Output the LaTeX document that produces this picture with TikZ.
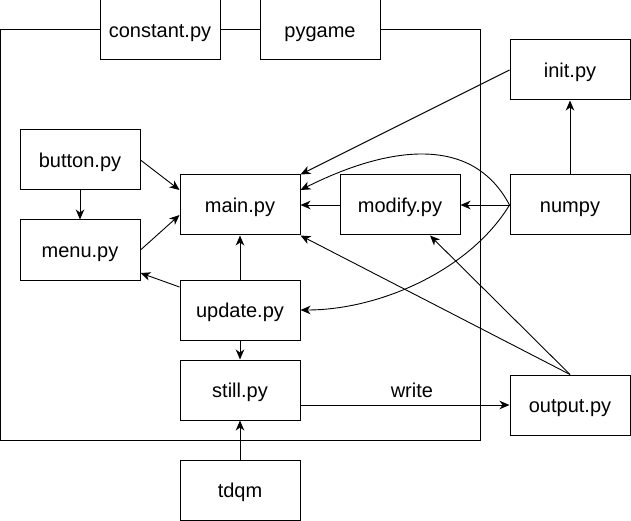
\documentclass[tikz,border=0pt]{standalone}
\usepackage{fontspec}
\setmainfont{Liberation Sans}
\usetikzlibrary{arrows.meta}
\begin{document}
\begin{tikzpicture}[x=1pt,y=-1pt,
  box/.style={draw, fill=white, line width=1pt, minimum width=120pt, minimum height=60pt, inner sep=0pt, text height=14.8pt, text depth=0pt, font=\fontsize{20}{24}\selectfont},
  frame/.style={draw, line width=1pt, minimum width=479.5pt, minimum height=410pt, inner sep=0pt},
  conn/.style={line width=0.9pt, -{Stealth[length=10pt,width=8.5pt,inset=3pt]}},
  lbl/.style={font=\fontsize{20}{24}\selectfont, inner sep=0pt}
]
\useasboundingbox (0,0) rectangle (631,521);
\node[frame] (pkg) at (240.25,235) {};
\node[box] (constant) at (160,30) {constant.py};
\node[box] (pygame) at (320,30) {pygame};
\node[box] (init) at (570,70) {init.py};
\node[box] (button) at (80,160) {button.py};
\node[box] (main) at (240,205) {main.py};
\node[box] (modify) at (400,205) {modify.py};
\node[box] (numpy) at (570,205) {numpy};
\node[box] (menu) at (80,250) {menu.py};
\node[box] (update) at (240,310) {update.py};
\node[box] (still) at (240,390) {still.py};
\node[box] (output) at (570,405) {output.py};
\node[box] (tdqm) at (240,490) {tdqm};

\draw[conn] (button.east) -- ([yshift=15pt]main.west);
\draw[conn] (menu.east) -- ([yshift=-10pt]main.west);
\draw[conn] (button.south) -- (menu.north);
\draw[conn] (update.north) -- (main.south);
\draw[conn] ([yshift=23pt]update.west) -- ([yshift=-23pt]menu.east);
\draw[conn] (update.south) -- (still.north);
\draw[conn] (tdqm.north) -- (still.south);
\draw[conn] ([yshift=-15pt]still.east) -- node[lbl, pos=0.533, above=7pt] (w) {write} (output.west);
\draw[conn] (modify.west) -- (main.east);
\draw[conn] (numpy.west) -- (modify.east);
\draw[conn] (numpy.north) -- (init.south);
\draw[conn] (init.west) -- (main.north east);
\draw[conn] (numpy.west) .. controls (470,130) and (380,150) .. ([yshift=15pt]main.east);
\draw[conn] (numpy.west) .. controls (470,270) and (380,310) .. (update.east);
\draw[conn] (output.north) -- (main.south east);
\draw[conn] (output.north) -- ([xshift=30pt]modify.south);
\end{tikzpicture}
\end{document}
